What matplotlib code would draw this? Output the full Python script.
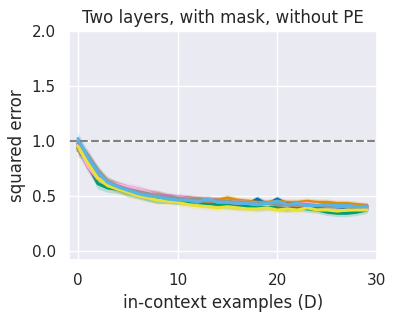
import numpy as np
import matplotlib
matplotlib.use("Agg")
import matplotlib.pyplot as plt
import seaborn as sns

sns.set_theme(style="darkgrid")

# in-context example counts
D = list(range(30))

# mean squared error per run
run_blue = [0.97, 0.84, 0.72, 0.60, 0.57, 0.54, 0.52, 0.49, 0.47, 0.46,
            0.45, 0.45, 0.44, 0.44, 0.43, 0.43, 0.42, 0.42, 0.47, 0.42,
            0.47, 0.42, 0.41, 0.41, 0.40, 0.41, 0.40, 0.39, 0.39, 0.39]
run_orange = [0.94, 0.82, 0.70, 0.63, 0.59, 0.56, 0.54, 0.52, 0.51, 0.49,
              0.48, 0.48, 0.47, 0.47, 0.46, 0.48, 0.46, 0.45, 0.44, 0.44,
              0.45, 0.44, 0.44, 0.45, 0.44, 0.44, 0.43, 0.43, 0.42, 0.41]
run_green = [0.93, 0.78, 0.61, 0.57, 0.56, 0.53, 0.51, 0.49, 0.47, 0.46,
             0.45, 0.44, 0.43, 0.43, 0.42, 0.41, 0.40, 0.40, 0.39, 0.40,
             0.39, 0.38, 0.39, 0.38, 0.37, 0.35, 0.34, 0.34, 0.35, 0.37]
run_red = [0.95, 0.83, 0.68, 0.61, 0.58, 0.55, 0.53, 0.51, 0.50, 0.48,
           0.47, 0.47, 0.46, 0.45, 0.45, 0.44, 0.44, 0.43, 0.43, 0.42,
           0.42, 0.43, 0.42, 0.43, 0.42, 0.42, 0.41, 0.41, 0.40, 0.40]
run_purple = [0.97, 0.76, 0.65, 0.62, 0.59, 0.56, 0.55, 0.52, 0.51, 0.50,
              0.49, 0.48, 0.47, 0.46, 0.46, 0.45, 0.44, 0.44, 0.43, 0.43,
              0.42, 0.42, 0.42, 0.41, 0.41, 0.41, 0.40, 0.40, 0.40, 0.39]
run_brown = [0.91, 0.86, 0.71, 0.63, 0.59, 0.56, 0.53, 0.51, 0.50, 0.48,
             0.47, 0.46, 0.46, 0.45, 0.45, 0.44, 0.43, 0.43, 0.43, 0.42,
             0.42, 0.42, 0.41, 0.42, 0.41, 0.41, 0.41, 0.40, 0.40, 0.40]
run_pink = [0.96, 0.77, 0.66, 0.62, 0.60, 0.58, 0.56, 0.53, 0.50, 0.48,
            0.49, 0.47, 0.46, 0.47, 0.45, 0.45, 0.44, 0.44, 0.43, 0.42,
            0.43, 0.42, 0.42, 0.43, 0.42, 0.41, 0.41, 0.41, 0.40, 0.40]
run_gray = [0.99, 0.87, 0.73, 0.63, 0.59, 0.56, 0.54, 0.52, 0.50, 0.49,
            0.48, 0.47, 0.47, 0.46, 0.46, 0.45, 0.44, 0.44, 0.43, 0.43,
            0.42, 0.42, 0.42, 0.42, 0.41, 0.41, 0.41, 0.41, 0.40, 0.41]
run_yellow = [0.95, 0.80, 0.66, 0.59, 0.56, 0.53, 0.50, 0.48, 0.46, 0.45,
              0.44, 0.42, 0.41, 0.40, 0.39, 0.40, 0.39, 0.38, 0.38, 0.39,
              0.37, 0.38, 0.37, 0.39, 0.37, 0.37, 0.36, 0.37, 0.37, 0.37]
run_lightblue = [1.02, 0.85, 0.71, 0.62, 0.58, 0.55, 0.52, 0.50, 0.49, 0.47,
                 0.46, 0.46, 0.44, 0.47, 0.44, 0.44, 0.43, 0.43, 0.42, 0.43,
                 0.45, 0.42, 0.43, 0.41, 0.41, 0.42, 0.41, 0.41, 0.40, 0.40]

runs = [run_blue, run_orange, run_green, run_red, run_purple,
        run_brown, run_pink, run_gray, run_yellow, run_lightblue]

# half-width of the shaded band around each run
band = [0.06, 0.05, 0.05, 0.04, 0.04, 0.04, 0.04, 0.04, 0.04, 0.03,
        0.03, 0.03, 0.03, 0.03, 0.03, 0.03, 0.03, 0.03, 0.03, 0.03,
        0.03, 0.03, 0.03, 0.03, 0.03, 0.03, 0.03, 0.03, 0.03, 0.03]

colors = sns.color_palette("colorblind", 10)

fig = plt.figure(figsize=(3.96, 3.2), dpi=100)
ax = fig.add_axes([0.174, 0.1875, 0.778, 0.716])

x = np.array(D)
b = np.array(band)
for vals, c in zip(runs, colors):
    y = np.array(vals)
    ax.fill_between(x, y - b, y + b, color=c, alpha=0.2, linewidth=0)
    ax.plot(x, y, color=c, linewidth=2.2)

ax.axhline(1.0, color="gray", linestyle="--", linewidth=1.5)

ax.set_xlim(-0.9, 30)
ax.set_ylim(-0.085, 2.0)
ax.set_xticks([0, 10, 20, 30])
ax.set_yticks([0.0, 0.5, 1.0, 1.5, 2.0])
ax.tick_params(labelsize=11)
ax.set_xlabel("in-context examples (D)", fontsize=12)
ax.set_ylabel("squared error", fontsize=12)
ax.set_title("Two layers, with mask, without PE", fontsize=12)

fig.savefig("out.png", dpi=100)
